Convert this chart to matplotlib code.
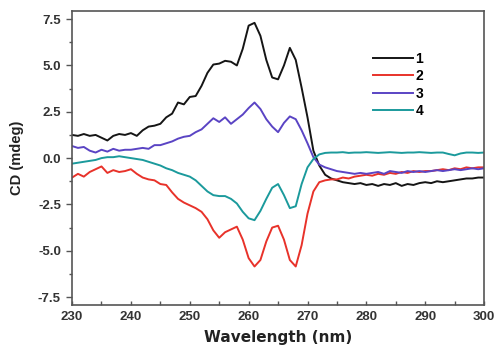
import matplotlib
matplotlib.use("Agg")
import matplotlib.pyplot as plt
import numpy as np
from matplotlib.ticker import MultipleLocator

# wavelength axis (nm), 1 nm steps
wavelength = np.arange(230, 301)

cd_1 = [1.25, 1.2, 1.3, 1.2, 1.25, 1.1, 0.95, 1.2, 1.3, 1.25,
        1.35, 1.2, 1.5, 1.7, 1.75, 1.85, 2.2, 2.4, 3.0, 2.9,
        3.3, 3.35, 3.9, 4.6, 5.05, 5.1, 5.25, 5.2, 5.0, 5.9,
        7.15, 7.3, 6.6, 5.3, 4.35, 4.25, 5.0, 5.95, 5.3, 3.8,
        2.2, 0.4, -0.4, -0.9, -1.1, -1.2, -1.3, -1.35, -1.4, -1.35,
        -1.45, -1.4, -1.5, -1.4, -1.45, -1.35, -1.5, -1.4, -1.45, -1.35,
        -1.3, -1.35, -1.25, -1.3, -1.25, -1.2, -1.15, -1.1, -1.1, -1.05,
        -1.05]

cd_2 = [-1.05, -0.85, -1.0, -0.75, -0.6, -0.45, -0.8, -0.65, -0.75, -0.7,
        -0.6, -0.85, -1.05, -1.15, -1.2, -1.4, -1.45, -1.85, -2.2, -2.4,
        -2.55, -2.7, -2.9, -3.3, -3.9, -4.3, -4.0, -3.85, -3.7, -4.4,
        -5.4, -5.85, -5.5, -4.5, -3.75, -3.65, -4.4, -5.5, -5.85, -4.7,
        -3.0, -1.8, -1.3, -1.2, -1.15, -1.15, -1.05, -1.1, -1.0, -0.95,
        -0.9, -0.95, -0.85, -0.9, -0.8, -0.85, -0.75, -0.8, -0.7, -0.75,
        -0.7, -0.7, -0.65, -0.6, -0.65, -0.55, -0.6, -0.5, -0.55, -0.5,
        -0.5]

cd_3 = [0.65, 0.55, 0.6, 0.4, 0.3, 0.45, 0.35, 0.5, 0.4, 0.45,
        0.45, 0.5, 0.55, 0.5, 0.7, 0.7, 0.8, 0.9, 1.05, 1.15,
        1.2, 1.4, 1.55, 1.85, 2.15, 1.95, 2.2, 1.85, 2.1, 2.35,
        2.7, 3.0, 2.65, 2.1, 1.7, 1.4, 1.9, 2.25, 2.1, 1.5,
        0.8, 0.05, -0.35, -0.5, -0.6, -0.7, -0.75, -0.8, -0.85, -0.8,
        -0.85, -0.8, -0.75, -0.85, -0.7, -0.75, -0.8, -0.7, -0.75, -0.7,
        -0.75, -0.7, -0.65, -0.7, -0.65, -0.6, -0.65, -0.6, -0.55, -0.6,
        -0.55]

cd_4 = [-0.3, -0.25, -0.2, -0.15, -0.1, 0.0, 0.05, 0.05, 0.1, 0.05,
        0.0, -0.05, -0.1, -0.2, -0.3, -0.4, -0.55, -0.65, -0.8, -0.9,
        -1.0, -1.2, -1.5, -1.8, -2.0, -2.05, -2.05, -2.2, -2.45, -2.9,
        -3.25, -3.35, -2.85, -2.2, -1.6, -1.4, -2.0, -2.7, -2.6, -1.4,
        -0.5, -0.05, 0.2, 0.28, 0.3, 0.3, 0.32, 0.28, 0.3, 0.3,
        0.32, 0.3, 0.28, 0.3, 0.32, 0.3, 0.28, 0.3, 0.3, 0.32,
        0.3, 0.28, 0.3, 0.3, 0.22, 0.15, 0.25, 0.3, 0.3, 0.28,
        0.3]

series = [cd_1, cd_2, cd_3, cd_4]
labels = ["1", "2", "3", "4"]
colors = ["#151515", "#e8322a", "#5a44c4", "#1b9a9c"]

fig = plt.figure(figsize=(4.97, 3.49), dpi=100)
ax = fig.add_axes([0.145, 0.126, 0.829, 0.842])

for y, lab, c in zip(series, labels, colors):
    ax.plot(wavelength, y, color=c, lw=1.4, label=lab)

ax.set_xlim(230, 300)
ax.set_ylim(-7.93, 7.93)
ax.xaxis.set_major_locator(MultipleLocator(10))
ax.xaxis.set_minor_locator(MultipleLocator(5))
ax.yaxis.set_major_locator(MultipleLocator(2.5))
ax.yaxis.set_minor_locator(MultipleLocator(1.25))
ax.set_yticks([7.5, 5.0, 2.5, 0.0, -2.5, -5.0, -7.5])
ax.set_yticklabels(["7.5", "5.0", "2.5", "0.0", "-2.5", "-5.0", "-7.5"])

ax.tick_params(axis="x", which="both", direction="in", length=3, width=1, color="#555555")
ax.tick_params(axis="y", which="major", direction="out", length=4, width=1, color="#555555")
ax.tick_params(axis="y", which="minor", direction="out", length=2, width=1, color="#555555")
ax.tick_params(labelsize=9.5, pad=4)
for lbl in ax.get_xticklabels() + ax.get_yticklabels():
    lbl.set_fontfamily("Liberation Sans")
    lbl.set_fontweight("bold")
    lbl.set_color("#333333")

for sp in ax.spines.values():
    sp.set_color("#555555")
    sp.set_linewidth(1.2)

ax.set_xlabel("Wavelength (nm)", fontsize=11, fontweight="bold", color="#222222", labelpad=5)
ax.set_ylabel("CD (mdeg)", fontsize=10.5, fontweight="bold", color="#222222",
              fontfamily="Liberation Sans", labelpad=10)

leg = ax.legend(loc="upper left", bbox_to_anchor=(0.70, 0.905), frameon=False,
                handlelength=2.9, handletextpad=0.15, labelspacing=0.25,
                prop={"family": "Liberation Sans", "weight": "bold", "size": 10})

fig.savefig("out.png", dpi=100)
